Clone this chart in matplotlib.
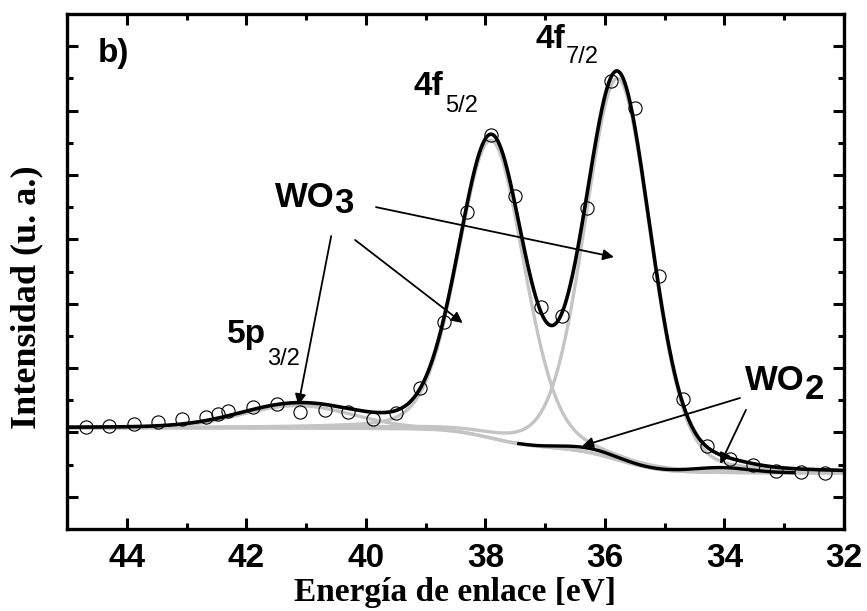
import numpy as np
import matplotlib.pyplot as plt
from matplotlib.ticker import MultipleLocator

# measured points (binding energy in eV, intensity in arbitrary units)
energy = [44.68, 44.30, 43.88, 43.48, 43.08, 42.68, 42.48, 42.30, 41.88, 41.48,
          41.10, 40.68, 40.30, 39.88, 39.50, 39.10, 38.70, 38.30, 37.90, 37.50,
          37.07, 36.72, 36.30, 35.90, 35.50, 35.10, 34.70, 34.30, 33.90, 33.52,
          33.13, 32.72, 32.32]
intensity = [3.17, 3.20, 3.26, 3.32, 3.42, 3.48, 3.57, 3.66, 3.79, 3.88,
             3.63, 3.70, 3.63, 3.42, 3.60, 4.38, 6.43, 9.84, 12.24, 10.34,
             6.89, 6.61, 9.97, 13.91, 13.07, 7.86, 4.04, 2.58, 2.17, 1.99,
             1.80, 1.77, 1.74]

# fitted components
comp_names = ['WO3 4f7/2', 'WO3 4f5/2', 'WO3 5p3/2', 'WO2 4f7/2', 'WO2 4f5/2']
comp_center = [35.78, 37.90, 41.15, 34.05, 36.25]
comp_height = [11.85, 9.25, 0.7, 0.15, 0.13]
comp_fwhm = [1.3, 1.3, 2.2, 1.1, 1.1]
comp_lorentz = [0.18, 0.18, 0.0, 0.0, 0.0]
comp_oxide = ['WO3', 'WO3', 'WO3', 'WO2', 'WO2']

# Shirley background end levels
bg_low = 1.74
bg_high = 3.14


def pvoigt(x, c, h, w, eta):
    g = np.exp(-4 * np.log(2) * ((x - c) / w) ** 2)
    l = 1 / (1 + 4 * ((x - c) / w) ** 2)
    return h * ((1 - eta) * g + eta * l)


x = np.linspace(32, 45, 1301)
comps = [pvoigt(x, c, h, w, e) for c, h, w, e in
         zip(comp_center, comp_height, comp_fwhm, comp_lorentz)]

# Shirley step built from the 4f lines
peaks4f = comps[0] + comps[1] + comps[3] + comps[4]
cum = np.cumsum(peaks4f)
bg = bg_low + (bg_high - bg_low) * cum / cum[-1]
total = bg + sum(comps)

W, H = 867, 611
fig = plt.figure(figsize=(W / 100, H / 100), dpi=100)
ax = fig.add_axes([67 / W, 1 - 529 / H, 777 / W, 515 / H])

ax.plot(x, bg, color='#c4c4c4', lw=2.4, zorder=2)
wo2 = np.zeros_like(x)
for comp, ox in zip(comps, comp_oxide):
    if ox == 'WO3':
        ax.plot(x, bg + comp, color='#c4c4c4', lw=2.4, zorder=2)
    else:
        wo2 = wo2 + comp
ax.plot(x, np.where(wo2 > 0.005, bg + wo2, np.nan), color='black', lw=2.4, zorder=3)
ax.plot(x, total, color='black', lw=2.6, zorder=4)
ax.plot(energy, intensity, 'o', mfc='none', mec='black', mew=0.8, ms=9.5, zorder=5)

ax.set_xlim(45, 32)
ax.set_ylim(0, 16)
ax.xaxis.set_major_locator(MultipleLocator(2))
ax.xaxis.set_minor_locator(MultipleLocator(1))
ax.set_yticks([1, 3, 5, 7, 9, 11, 13, 15])
ax.set_yticks([2, 4, 6, 8, 10, 12, 14], minor=True)
ax.set_yticklabels([])
ax.tick_params(which='both', direction='in', top=True, right=True, width=2.2)
ax.tick_params(which='major', length=8, pad=10)
ax.tick_params(which='minor', length=4)
for lab in ax.get_xticklabels():
    lab.set_fontfamily('Liberation Sans')
    lab.set_fontweight('bold')
    lab.set_fontsize(24)
for s in ax.spines.values():
    s.set_linewidth(2.4)

ax.set_xlabel('Energía de enlace [eV]', family='Liberation Serif', fontweight='bold',
              fontsize=24, labelpad=2)
ax.set_ylabel('Intensidad (u. a.)', family='Liberation Serif', fontweight='bold',
              fontsize=26)
ax.yaxis.set_label_coords(-0.03, 0.45)


def ftext(px, py, s, size, bold=True):
    fig.text(px / W, 1 - py / H, s, fontsize=size, family='Liberation Sans',
             fontweight='bold' if bold else 'normal', va='baseline', ha='left')


ftext(98, 62, 'b)', 24)
ftext(413, 95, '4f', 24)
ftext(445, 112, '5/2', 17, bold=False)
ftext(535, 48, '4f', 24)
ftext(566, 63, '7/2', 17, bold=False)
ftext(275, 207, 'WO', 25)
ftext(334, 213, '3', 25)
ftext(227, 343, '5p', 24)
ftext(267, 365, '3/2', 17, bold=False)
ftext(745, 390, 'WO', 25)
ftext(805, 399, '2', 25)

# arrows: (start E, start y) -> (end E, end y)
arrows = [((39.83, 10.0), (35.85, 8.45)),
          ((40.18, 8.98), (38.38, 6.4)),
          ((40.58, 9.1), (41.13, 3.85)),
          ((33.74, 4.07), (36.38, 2.58)),
          ((33.64, 3.70), (34.07, 2.02))]
for start, end in arrows:
    ax.annotate('', xy=end, xytext=start,
                arrowprops=dict(arrowstyle='-|>', color='black', lw=1.3,
                                mutation_scale=16, shrinkA=0, shrinkB=0),
                zorder=6)

fig.savefig('out.png', dpi=100)
